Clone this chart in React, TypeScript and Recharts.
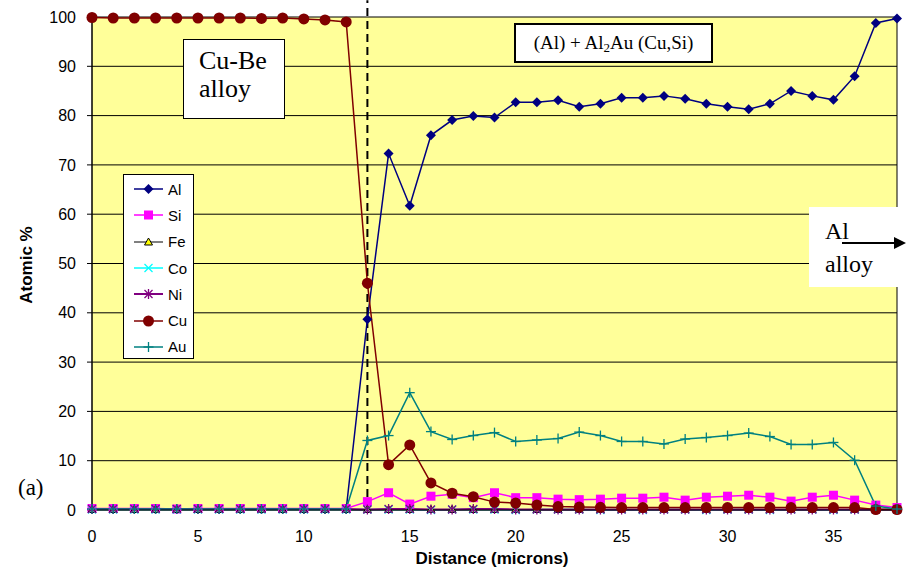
import React from 'react';
import {
  LineChart,
  Line,
  XAxis,
  YAxis,
  CartesianGrid,
  ReferenceLine,
} from 'recharts';

const distance = [
  0, 1, 2, 3, 4, 5, 6, 7, 8, 9, 10, 11, 12, 13, 14, 15, 16, 17, 18, 19,
  20, 21, 22, 23, 24, 25, 26, 27, 28, 29, 30, 31, 32, 33, 34, 35, 36, 37, 38,
];

const al = [
  0.2, 0.2, 0.2, 0.2, 0.2, 0.2, 0.2, 0.2, 0.2, 0.2, 0.2, 0.2, 0.2, 38.7, 72.3, 61.7, 76, 79.1, 79.9, 79.6,
  82.7, 82.7, 83.1, 81.8, 82.4, 83.6, 83.6, 84, 83.4, 82.4, 81.8, 81.3, 82.4, 85, 84, 83.2, 88, 98.8, 99.7,
];
const si = [
  0.3, 0.3, 0.3, 0.3, 0.2, 0.3, 0.3, 0.3, 0.3, 0.3, 0.3, 0.3, 0.3, 1.7, 3.5, 1.2, 2.8, 3.2, 2.5, 3.5,
  2.5, 2.5, 2.2, 2.1, 2.2, 2.4, 2.4, 2.6, 2.0, 2.6, 2.8, 3.0, 2.6, 1.8, 2.6, 3.0, 2.0, 1.0, 0.5,
];
const fe = [
  0.1, 0.1, 0.1, 0.1, 0.1, 0.1, 0.1, 0.1, 0.1, 0.1, 0.1, 0.1, 0.1, 0.1, 0.1, 0.1, 0.1, 0.1, 0.1, 0.1,
  0.1, 0.1, 0.1, 0.1, 0.1, 0.1, 0.1, 0.1, 0.1, 0.1, 0.1, 0.1, 0.1, 0.1, 0.1, 0.1, 0.1, 0.1, 0.1,
];
const co = [
  0.1, 0.1, 0.1, 0.1, 0.1, 0.1, 0.1, 0.1, 0.1, 0.1, 0.1, 0.1, 0.1, 0.1, 0.1, 0.1, 0.0, 0.1, 0.1, 0.1,
  0.0, 0.1, 0.1, 0.1, 0.0, 0.1, 0.0, 0.1, 0.1, 0.0, 0.1, 0.1, 0.0, 0.1, 0.1, 0.0, 0.1, 0.1, 0.1,
];
const ni = [
  0.2, 0.2, 0.2, 0.2, 0.2, 0.2, 0.2, 0.2, 0.2, 0.2, 0.2, 0.2, 0.2, 0.1, 0.2, 0.2, 0.1, 0.1, 0.2, 0.2,
  0.1, 0.1, 0.1, 0.1, 0.1, 0.1, 0.1, 0.1, 0.1, 0.1, 0.1, 0.1, 0.1, 0.1, 0.1, 0.1, 0.1, 0.1, 0.1,
];
const cu = [
  99.9, 99.8, 99.8, 99.8, 99.8, 99.8, 99.8, 99.8, 99.7, 99.8, 99.6, 99.4, 99.0, 46, 9.2, 13.2, 5.5, 3.4, 2.7, 1.6,
  1.4, 1.0, 0.7, 0.6, 0.55, 0.5, 0.5, 0.5, 0.5, 0.5, 0.5, 0.5, 0.5, 0.5, 0.5, 0.5, 0.5, 0.1, 0.1,
];
const au = [
  0.2, 0.2, 0.2, 0.2, 0.2, 0.2, 0.2, 0.2, 0.2, 0.2, 0.2, 0.2, 0.2, 14.1, 15.1, 23.8, 15.9, 14.3, 15.1, 15.7,
  13.9, 14.2, 14.5, 15.8, 15.1, 13.9, 13.9, 13.4, 14.4, 14.7, 15.1, 15.6, 14.9, 13.3, 13.3, 13.7, 10.1, 0.8, 0.2,
];

const xTicks = [0, 5, 10, 15, 20, 25, 30, 35];
const yTicks = [0, 10, 20, 30, 40, 50, 60, 70, 80, 90, 100];
const interfaceAt = 13;

const data = distance.map((d, i) => ({
  d,
  Al: al[i],
  Si: si[i],
  Fe: fe[i],
  Co: co[i],
  Ni: ni[i],
  Cu: cu[i],
  Au: au[i],
}));

type Shape = 'diamond' | 'square' | 'triangle' | 'x' | 'star' | 'circle' | 'plus';

const SERIES: { key: string; color: string; shape: Shape; width: number }[] = [
  { key: 'Al', color: '#000080', shape: 'diamond', width: 1.5 },
  { key: 'Si', color: '#FF00FF', shape: 'square', width: 1.5 },
  { key: 'Fe', color: '#000000', shape: 'triangle', width: 1 },
  { key: 'Co', color: '#00FFFF', shape: 'x', width: 1.5 },
  { key: 'Ni', color: '#800080', shape: 'star', width: 2 },
  { key: 'Cu', color: '#800000', shape: 'circle', width: 1.5 },
  { key: 'Au', color: '#008080', shape: 'plus', width: 1.5 },
];

const sans = 'Arial, "Liberation Sans", sans-serif';
const serif = '"Times New Roman", "Liberation Serif", serif';

function Marker({ cx, cy, shape, color }: { cx: number; cy: number; shape: Shape; color: string }) {
  switch (shape) {
    case 'diamond':
      return <polygon points={`${cx},${cy - 5} ${cx + 5},${cy} ${cx},${cy + 5} ${cx - 5},${cy}`} fill={color} />;
    case 'square':
      return <rect x={cx - 4.5} y={cy - 4.5} width={9} height={9} fill={color} />;
    case 'triangle':
      return (
        <polygon
          points={`${cx},${cy - 4} ${cx + 4},${cy + 3} ${cx - 4},${cy + 3}`}
          fill="#FFFF00"
          stroke="#000"
          strokeWidth={1}
        />
      );
    case 'x':
      return (
        <g stroke={color} strokeWidth={1.3}>
          <line x1={cx - 4} y1={cy - 4} x2={cx + 4} y2={cy + 4} />
          <line x1={cx - 4} y1={cy + 4} x2={cx + 4} y2={cy - 4} />
        </g>
      );
    case 'star':
      return (
        <g stroke={color} strokeWidth={1.3}>
          <line x1={cx - 4} y1={cy - 4} x2={cx + 4} y2={cy + 4} />
          <line x1={cx - 4} y1={cy + 4} x2={cx + 4} y2={cy - 4} />
          <line x1={cx} y1={cy - 5} x2={cx} y2={cy + 5} />
        </g>
      );
    case 'circle':
      return <circle cx={cx} cy={cy} r={5.5} fill={color} />;
    case 'plus':
      return (
        <g stroke={color} strokeWidth={1.3}>
          <line x1={cx - 5} y1={cy} x2={cx + 5} y2={cy} />
          <line x1={cx} y1={cy - 5} x2={cx} y2={cy + 5} />
        </g>
      );
  }
  return null;
}

function LegendBox() {
  return (
    <div
      style={{
        position: 'absolute',
        left: 123,
        top: 174,
        width: 71,
        height: 185,
        background: '#fff',
        border: '1px solid #000',
        fontFamily: sans,
        fontSize: 15,
        paddingTop: 1,
        boxSizing: 'border-box',
      }}
    >
      {SERIES.map((s) => (
        <div key={s.key} style={{ display: 'flex', alignItems: 'center', height: 26.3 }}>
          <svg width={40} height={16} style={{ marginLeft: 3 }}>
            <line x1={7} y1={8} x2={36} y2={8} stroke={s.color} strokeWidth={s.width} />
            <Marker cx={21.5} cy={8} shape={s.shape} color={s.color} />
          </svg>
          <span style={{ marginLeft: 1 }}>{s.key}</span>
        </div>
      ))}
    </div>
  );
}

export default function App() {
  return (
    <div style={{ position: 'absolute', left: 0, top: 0, width: 908, height: 580, background: '#fff' }}>
      <LineChart
        width={908}
        height={580}
        data={data}
        margin={{ top: 17, right: 11, bottom: 0, left: 0 }}
      >
        <CartesianGrid
          vertical
          horizontal
          fill="#FFFF99"
          stroke="#000"
          strokeOpacity={1}
          verticalPoints={[897]}
        />
        <XAxis
          dataKey="d"
          type="number"
          domain={[0, 38]}
          ticks={xTicks}
          height={70}
          axisLine={{ stroke: '#000' }}
          tickLine={false}
          tickSize={10}
          tickMargin={11}
          tick={{ fill: '#000', fontSize: 16, fontFamily: sans }}
          label={{
            content: () => (
              <text x={492} y={564} textAnchor="middle" fontFamily={sans} fontWeight="bold" fontSize={17} fill="#000">
                Distance (microns)
              </text>
            ),
          }}
        />
        <YAxis
          type="number"
          domain={[0, 100]}
          ticks={yTicks}
          width={92}
          axisLine={{ stroke: '#000', strokeWidth: 1.5 }}
          tickLine={{ stroke: '#000' }}
          tickSize={5}
          tickMargin={11}
          tick={{ fill: '#000', fontSize: 16, fontFamily: sans }}
          label={{
            content: () => (
              <text
                transform="translate(32,265) rotate(-90)"
                textAnchor="middle"
                fontFamily={sans}
                fontWeight="bold"
                fontSize={17}
                fill="#000"
              >
                Atomic %
              </text>
            ),
          }}
        />
        <ReferenceLine
          segment={[
            { x: interfaceAt, y: 0 },
            { x: interfaceAt, y: 103.4 },
          ]}
          stroke="#000"
          strokeWidth={2}
          strokeDasharray="8 5"
          ifOverflow="visible"
        />
        {SERIES.map((s) => (
          <Line
            key={s.key}
            dataKey={s.key}
            stroke={s.color}
            strokeWidth={s.width}
            isAnimationActive={false}
            dot={(p: any) => (
              <Marker key={`${s.key}-${p.index}`} cx={p.cx} cy={p.cy} shape={s.shape} color={s.color} />
            )}
            activeDot={false}
          />
        ))}
      </LineChart>

      <LegendBox />

      <div
        style={{
          position: 'absolute',
          left: 183,
          top: 39,
          width: 102,
          height: 80,
          boxSizing: 'border-box',
          background: '#fff',
          border: '1px solid #000',
          fontFamily: serif,
          fontSize: 26,
          lineHeight: '28px',
          paddingLeft: 15,
          paddingTop: 7,
        }}
      >
        Cu-Be
        <br />
        alloy
      </div>

      <div
        style={{
          position: 'absolute',
          left: 514,
          top: 23,
          width: 199,
          height: 40,
          boxSizing: 'border-box',
          background: '#fff',
          border: '2px solid #000',
          fontFamily: serif,
          fontSize: 19,
          lineHeight: '36px',
          textAlign: 'center',
        }}
      >
        (Al) + Al<sub style={{ fontSize: 13, verticalAlign: '-3px', lineHeight: 0 }}>2</sub>Au (Cu,Si)
      </div>

      <div
        style={{
          position: 'absolute',
          left: 809,
          top: 207,
          width: 99,
          height: 80,
          background: '#fff',
          fontFamily: serif,
          fontSize: 24,
          lineHeight: '33px',
          paddingLeft: 16,
          paddingTop: 8,
          boxSizing: 'border-box',
        }}
      >
        Al
        <br />
        alloy
        <svg width={70} height={14} style={{ position: 'absolute', left: 33, top: 29 }}>
          <line x1={0} y1={7} x2={54} y2={7} stroke="#000" strokeWidth={2} />
          <polygon points="52,1 64,7 52,13" fill="#000" />
        </svg>
      </div>

      <div style={{ position: 'absolute', left: 18, top: 475, fontFamily: serif, fontSize: 23 }}>(a)</div>
    </div>
  );
}
